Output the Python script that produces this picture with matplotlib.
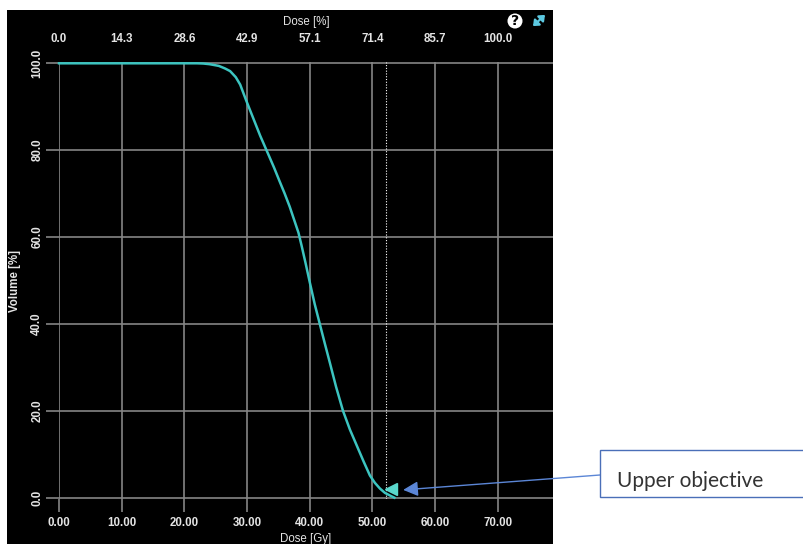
import matplotlib.pyplot as plt
from matplotlib.patches import Rectangle, Circle, FancyArrowPatch

# DVH curve (dose in Gy, volume in %)
dose_gy = [0, 22.0, 23.0, 24.0, 25.5, 26.5, 27.3, 28.2, 28.9, 29.9, 31.0, 32.1,
           33.4, 34.3, 35.2, 36.0, 36.8, 37.5, 38.2, 38.7, 39.3, 40.0, 40.8,
           41.6, 42.4, 43.2, 44.2, 45.3, 46.4, 47.5, 48.6, 49.6, 50.4, 51.2,
           52.0, 52.8, 53.5]
volume_pct = [100, 100, 99.95, 99.8, 99.4, 98.8, 98.2, 96.8, 95.1, 91.3, 87.3,
              83.3, 79.0, 76.0, 72.8, 70.0, 67.0, 64.0, 61.0, 58.0, 54.2, 49.6,
              44.5, 40.0, 35.5, 31.1, 25.5, 20.0, 15.7, 12.0, 8.3, 5.1, 3.4,
              2.1, 1.1, 0.5, 0.0]

prescription_gy = 70.0
x_ticks = [0, 10, 20, 30, 40, 50, 60, 70]
y_ticks = [0, 20, 40, 60, 80, 100]
objective_dose = 52.1
objective_marker = (53.0, 2.0)
note_text = "Upper objective"

W, H = 804, 544
fig = plt.figure(figsize=(W / 100, H / 100), dpi=100, facecolor="white")

def fx(px):
    return px / W

def fy(py):
    return 1 - py / H

# black panel of the planning software
fig.add_artist(Rectangle((fx(7), 0), fx(553) - fx(7), fy(10), transform=fig.transFigure,
                         facecolor="black", edgecolor="none", zorder=0))

ax = fig.add_axes([fx(59), fy(499), fx(553) - fx(59), fy(62) - fy(499)])
ax.set_facecolor("black")
ax.set_xlim(0, 78.8)
ax.set_ylim(-0.3, 100.3)
for s in ax.spines.values():
    s.set_visible(False)

grid_col = "#858585"
lab_col = "#e4e4e4"
font = "Liberation Sans"
fs = 8.3

ax.set_xticks(x_ticks)
ax.set_xticklabels([f"{v:.2f}" for v in x_ticks])
ax.set_yticks(y_ticks)
ax.set_yticklabels([f"{v:.1f}" for v in y_ticks])
ax.tick_params(axis="both", length=9.4, width=1.2, color=grid_col, labelcolor=lab_col,
               labelsize=fs)
ax.tick_params(axis="x", pad=3.5)
ax.tick_params(axis="y", pad=2, labelrotation=90)
for t in ax.get_yticklabels():
    t.set_va("center")
for t in ax.get_xticklabels() + ax.get_yticklabels():
    t.set_fontfamily(font)
    t.set_fontweight("bold")
ax.grid(True, color=grid_col, linewidth=1.2)

ax.set_xlabel("Dose [Gy]", color=lab_col, fontsize=fs, family=font, labelpad=3)
ax.set_ylabel("Volume [%]", color=lab_col, fontsize=fs, family=font, labelpad=7,
              fontweight="bold")

# top axis in percent of prescription
top = ax.twiny()
top.set_xlim(ax.get_xlim())
top.set_xticks(x_ticks)
top.set_xticklabels([f"{v / prescription_gy * 100:.1f}" for v in x_ticks],
                    family=font, fontweight="bold")
top.tick_params(axis="x", length=0, pad=12, labelcolor=lab_col, labelsize=fs)
for s in top.spines.values():
    s.set_visible(False)
top.set_xlabel("Dose [%]", color=lab_col, fontsize=fs, family=font, labelpad=6)

ax.axvline(objective_dose, ymin=0, ymax=1, color="white", linestyle=(0, (1, 1.5)),
           linewidth=0.8)
ax.plot(dose_gy, volume_pct, color="#3cc4c0", linewidth=1.8, clip_on=False, zorder=3,
        solid_joinstyle="round")
ax.plot(*objective_marker, marker="<", markersize=8, color="#5ad8cc", zorder=4)

# callout
fig.add_artist(Rectangle((fx(600), fy(497)), fx(820) - fx(600), fy(450) - fy(497),
                         transform=fig.transFigure, facecolor="white",
                         edgecolor="#4a6fb8", linewidth=1.0))
fig.text(fx(617), fy(481), note_text, fontsize=15, family="Lato", color="#333333",
         va="center", ha="left")
ax.annotate("", xy=(54.9, 1.8), xycoords="data",
            xytext=(600, H - 475), textcoords="figure pixels",
            arrowprops=dict(arrowstyle="-|>,head_length=0.9,head_width=0.45",
                            color="#5b86d6", linewidth=1.0, shrinkA=0, shrinkB=0),
            annotation_clip=False)

# help / expand icons
fig.add_artist(Circle((515, H - 21), 7.5, transform=None,
                      facecolor="white", edgecolor="none"))
fig.text(fx(515), fy(21), "?", fontsize=10, fontweight="bold", color="black",
         ha="center", va="center", family="DejaVu Sans")
fig.add_artist(FancyArrowPatch(
    (531, H - 28), (547, H - 13), transform=None,
    arrowstyle="<|-|>,head_length=3,head_width=2.5", color="#5cc8e0", linewidth=1.6))

fig.savefig("out.png", dpi=100, facecolor="white")
